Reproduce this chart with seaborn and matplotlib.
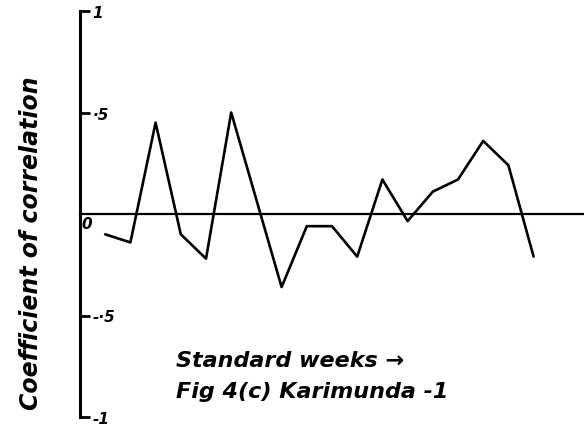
import matplotlib
matplotlib.use("Agg")
import matplotlib.pyplot as plt
import seaborn as sns
import pandas as pd

# Weekly correlation coefficients (standard weeks), week 7 not plotted
weeks = [1, 2, 3, 4, 5, 6, 8, 9, 10, 11, 12, 13, 14, 15, 16, 17, 18]
coeffs = [-0.10, -0.14, 0.45, -0.10, -0.22, 0.50, -0.36, -0.06, -0.06,
          -0.21, 0.17, -0.035, 0.11, 0.17, 0.36, 0.24, -0.21]

ytick_vals = [1, 0.5, -0.5, -1]
ytick_text = ["1", "·5", "-·5", "-1"]
xtick_vals = [4, 8, 12, 16, 20]

ylabel = "Coefficient of correlation"
caption_1 = "Standard weeks →"
caption_2 = "Fig 4(c) Karimunda -1"

df = pd.DataFrame({"week": weeks, "r": coeffs})

sns.set_style("white")
plt.rcParams["font.family"] = ["DejaVu Sans"]

W, H = 584, 431
fig = plt.figure(figsize=(W / 100, H / 100), dpi=100)
ax = fig.add_axes([80 / W, 13 / H, 504 / W, 406 / H])

sns.lineplot(data=df, x="week", y="r", color="black", linewidth=1.9, ax=ax)

ax.set_xlim(0, 20)
ax.set_ylim(-1, 1)

for side in ("top", "right"):
    ax.spines[side].set_visible(False)
ax.spines["left"].set_linewidth(2.2)
ax.spines["left"].set_color("black")
ax.spines["bottom"].set_position(("data", 0))
ax.spines["bottom"].set_linewidth(1.6)
ax.spines["bottom"].set_color("black")

hand = dict(family="DejaVu Sans", style="italic", weight="bold", color="black")

# y ticks point into the plot, labels sit to the right of the axis
ax.set_yticks(ytick_vals)
ax.set_yticklabels(ytick_text, ha="left", fontsize=11, fontstyle="italic",
                   fontweight="bold")
ax.tick_params(axis="y", direction="in", length=7, width=2, color="black",
               labelcolor="black", left=True, right=False, labelleft=True,
               pad=-9)

ax.set_xticks(xtick_vals)
ax.set_xticklabels([])
ax.tick_params(axis="x", direction="out", length=4, width=2, color="black")

ax.text(0.25, -0.045, "0", ha="center", va="center", fontsize=11, **hand)

ax.set_xlabel("")
ax.set_ylabel(ylabel, fontsize=17, **hand)
ax.yaxis.set_label_coords(-37 / 504, 0.43)

ax.text(3.8, -0.72, caption_1, ha="left", va="center", fontsize=16, **hand)
ax.text(3.8, -0.87, caption_2, ha="left", va="center", fontsize=16, **hand)

fig.savefig("out.png", dpi=100, facecolor="white")
